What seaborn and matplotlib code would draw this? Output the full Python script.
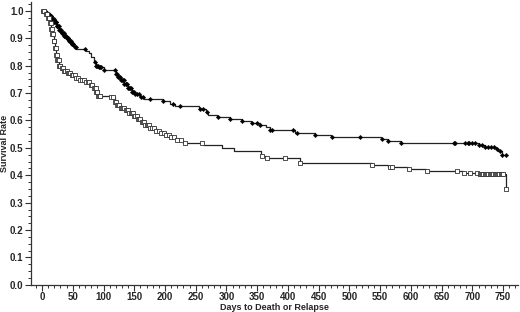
import numpy as np
import seaborn as sns
import matplotlib.pyplot as plt
from matplotlib.ticker import MultipleLocator

# Kaplan-Meier step points (day, survival)
upper_days = [0, 4, 8, 12, 16, 20, 24, 28, 32, 36, 40, 44, 48, 52, 56, 72, 76, 80,
              84, 88, 92, 100, 120, 124, 128, 134, 140, 146, 152, 160, 166, 196, 208,
              216, 255, 266, 270, 285, 305, 325, 340, 354, 365, 371, 412, 444, 470,
              552, 562, 584, 710, 720, 738, 742, 748, 754]
upper_surv = [1.0, 0.995, 0.99, 0.982, 0.972, 0.96, 0.945, 0.932, 0.92, 0.91, 0.9,
              0.89, 0.88, 0.87, 0.862, 0.855, 0.845, 0.83, 0.815, 0.8, 0.795, 0.785,
              0.77, 0.758, 0.748, 0.735, 0.72, 0.705, 0.695, 0.685, 0.677, 0.67, 0.66,
              0.652, 0.642, 0.63, 0.62, 0.613, 0.606, 0.598, 0.591, 0.584, 0.576,
              0.567, 0.556, 0.548, 0.54, 0.533, 0.526, 0.518, 0.511, 0.504, 0.497,
              0.489, 0.474, 0.474]

lower_days = [0, 6, 10, 13, 15, 17, 19, 21, 23, 25, 28, 32, 36, 42, 48, 54, 60, 70,
              78, 84, 88, 91, 112, 118, 122, 128, 135, 142, 150, 156, 162, 168, 175,
              185, 192, 200, 208, 218, 230, 262, 292, 312, 356, 364, 420, 536, 562,
              596, 625, 684, 712, 754]
lower_surv = [1.0, 0.99, 0.975, 0.955, 0.935, 0.915, 0.89, 0.865, 0.84, 0.82, 0.8,
              0.79, 0.782, 0.775, 0.765, 0.755, 0.748, 0.74, 0.73, 0.72, 0.705, 0.688,
              0.684, 0.668, 0.657, 0.647, 0.638, 0.628, 0.615, 0.605, 0.595, 0.582,
              0.572, 0.562, 0.555, 0.547, 0.54, 0.529, 0.518, 0.51, 0.5, 0.489, 0.472,
              0.464, 0.445, 0.436, 0.43, 0.423, 0.416, 0.409, 0.405, 0.35]

# censoring marks (days)
upper_cens = [1, 2, 3, 4, 5, 6, 7, 8, 9, 10, 11, 12, 13, 14, 15, 16, 17, 18, 19, 20,
              21, 22, 23, 24, 25, 26, 27, 28, 29, 30, 31, 32, 33, 34, 35, 36, 37, 38,
              39, 40, 41, 42, 43, 44, 45, 46, 47, 48, 49, 50, 51, 53, 55, 70, 86, 88,
              89, 91, 92, 94, 96, 100, 119, 121, 122, 124, 125, 127, 128, 130, 131,
              133, 134, 136, 137, 139, 140, 142, 143, 145, 146, 148, 149, 152, 155,
              158, 161, 165, 175, 197, 213, 224, 257, 262, 268, 286, 306, 325, 341,
              350, 354, 371, 374, 408, 414, 444, 471, 517, 553, 563, 584, 670, 672,
              688, 692, 695, 700, 705, 710, 715, 720, 725, 730, 735, 740, 745, 748,
              754]
lower_cens = [2, 4, 6, 8, 10, 11, 12, 13, 14, 15, 16, 17, 18, 19, 20, 21, 22, 23, 24,
              25, 26, 27, 28, 29, 30, 32, 34, 36, 38, 40, 42, 44, 46, 48, 50, 53, 56,
              59, 62, 65, 68, 71, 74, 77, 80, 82, 84, 86, 87, 88, 89, 90, 91, 93, 95,
              112, 115, 118, 120, 122, 124, 126, 128, 130, 132, 134, 136, 138, 140,
              142, 144, 146, 148, 150, 152, 154, 156, 158, 160, 162, 164, 166, 168,
              170, 172, 174, 176, 179, 182, 186, 190, 194, 198, 202, 206, 210, 214,
              219, 226, 232, 260, 358, 366, 395, 420, 537, 566, 570, 597, 626, 675,
              686, 696, 707, 712, 714, 716, 718, 720, 722, 724, 726, 728, 730, 732,
              734, 736, 738, 740, 742, 744, 746, 748, 750, 754]

x_ticks = [0, 50, 100, 150, 200, 250, 300, 350, 400, 450, 500, 550, 600, 650, 700, 750]


def at(days, surv, t):
    idx = np.searchsorted(days, t, side='right') - 1
    return np.asarray(surv)[idx]


sns.set_style('ticks')
plt.rcParams['font.family'] = ['Liberation Sans', 'DejaVu Sans']

fig = plt.figure(figsize=(5.2, 3.12), dpi=100)
ax = fig.add_axes([0.06, 0.087, 0.936, 0.907])

sns.lineplot(x=upper_days, y=upper_surv, drawstyle='steps-post', color='#222222',
             lw=0.9, ax=ax)
sns.lineplot(x=lower_days, y=lower_surv, drawstyle='steps-post', color='#222222',
             lw=0.9, ax=ax)
sns.scatterplot(x=upper_cens, y=at(upper_days, upper_surv, upper_cens), marker='D',
                s=5, color='black', edgecolor='black', linewidth=0.3, ax=ax, zorder=3)
sns.scatterplot(x=lower_cens, y=at(lower_days, lower_surv, lower_cens), marker='s',
                s=7, facecolor='white', edgecolor='#333333', linewidth=0.6, ax=ax,
                zorder=3)

ax.set_xlim(-17.6, 774)
ax.set_ylim(0, 1.033)
ax.set_xticks(x_ticks)
ax.set_yticks(np.arange(0, 1.01, 0.1))
ax.set_yticklabels([f'{v:.1f}' for v in np.arange(0, 1.01, 0.1)])
ax.xaxis.set_minor_locator(MultipleLocator(10))
ax.yaxis.set_minor_locator(MultipleLocator(0.025))
ax.tick_params(which='major', length=4, width=0.8, labelsize=7, pad=1.5, color='#333333')
ax.tick_params(which='minor', length=2, width=0.7, color='#333333')
for lab in ax.get_xticklabels() + ax.get_yticklabels():
    lab.set_fontweight('bold')
for s in ['left', 'bottom']:
    ax.spines[s].set_linewidth(0.9)
    ax.spines[s].set_color('#333333')
sns.despine(ax=ax)

ax.set_xlabel('Days to Death or Relapse', fontsize=6.5, fontweight='bold', labelpad=0.5)
ax.set_ylabel('Survival Rate', fontsize=6.5, fontweight='bold')
ax.yaxis.set_label_coords(-0.0446, 0.5)

fig.savefig('out.png', dpi=100)
